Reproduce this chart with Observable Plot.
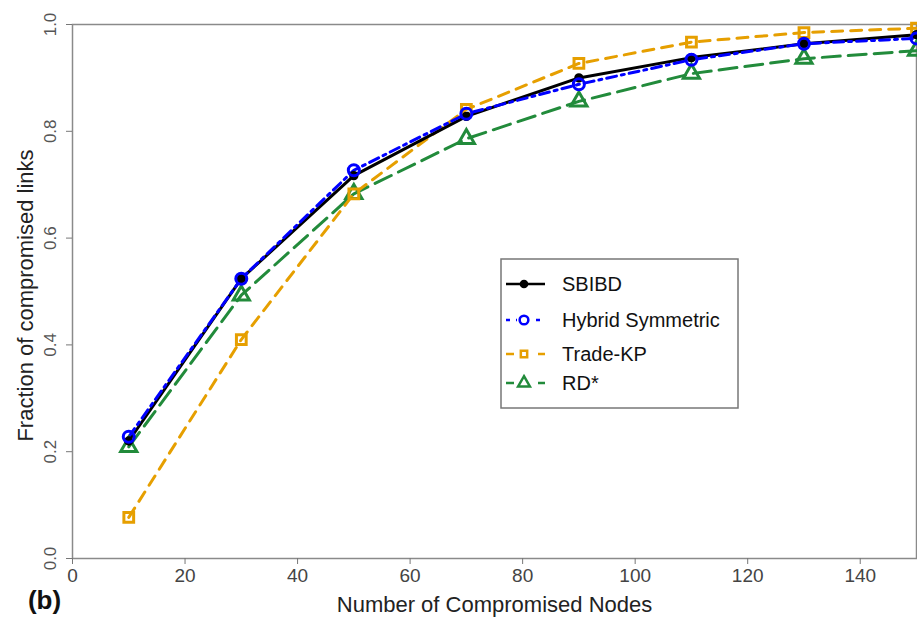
<!DOCTYPE html>
<html>
<head>
<meta charset="utf-8">
<script src="https://cdn.jsdelivr.net/npm/d3@7"></script>
<script src="https://cdn.jsdelivr.net/npm/@observablehq/plot@0.6"></script>
<style>
  body { margin: 0; background: #fff; font-family: "Liberation Sans", Arial, sans-serif; }
  #wrap { position: relative; width: 917px; height: 620px; }
  #legend { position: absolute; left: 500px; top: 258px; width: 240px; height: 152px; }
</style>
</head>
<body>
<div id="wrap"><div id="chart"></div><svg id="legend" width="240" height="152"></svg></div>
<script>
const nodes = [10, 30, 50, 70, 90, 110, 130, 150];
const sbibd  = [0.220, 0.524, 0.717, 0.828, 0.900, 0.938, 0.964, 0.981];
const hybrid = [0.228, 0.524, 0.727, 0.833, 0.888, 0.934, 0.964, 0.974];
const tradeKP = [0.077, 0.410, 0.683, 0.841, 0.927, 0.967, 0.985, 0.993];
const rdStar = [0.209, 0.493, 0.683, 0.786, 0.856, 0.908, 0.936, 0.951];
const xTicks = [0, 20, 40, 60, 80, 100, 120, 140];
const yTicks = [0, 0.2, 0.4, 0.6, 0.8, 1.0];

const seriesDefs = [
  {name: "SBIBD", values: sbibd, color: "#000000", dash: null, symbol: "circle", fill: "#000000", r: 3.2},
  {name: "Hybrid Symmetric", values: hybrid, color: "#0000ff", dash: "10,5,3,5", symbol: "circle", fill: "none", r: 5.5},
  {name: "Trade-KP", values: tradeKP, color: "#E69F00", dash: "11,8", symbol: "square", fill: "none", r: 5.5},
  {name: "RD*", values: rdStar, color: "#228B3B", dash: "18,8", symbol: "triangle", fill: "none", r: 6}
];

const rows = seriesDefs.map(s => nodes.map((n, i) => ({x: n, y: s.values[i], series: s.name})));

const marks = [];
const order = [3, 2, 0, 1];
for (const k of order) {
  const s = seriesDefs[k];
  marks.push(Plot.line(rows[k], {x: "x", y: "y", stroke: s.color, strokeWidth: 3, strokeDasharray: s.dash || undefined}));
}
for (const k of order) {
  const s = seriesDefs[k];
  marks.push(Plot.dot(rows[k], {x: "x", y: "y", stroke: s.color, fill: s.fill, strokeWidth: 3, symbol: s.symbol, r: s.r}));
}

const chart = Plot.plot({
  width: 917,
  height: 620,
  marginLeft: 72,
  marginRight: 1,
  marginTop: 24,
  marginBottom: 62,
  style: {fontFamily: "Liberation Sans, Arial, sans-serif", background: "#fff"},
  x: {domain: [0, 150]},
  y: {domain: [0, 1]},
  marks: [
    Plot.frame({stroke: "#8a8a8a", strokeWidth: 1.5}),
    Plot.axisX({ticks: xTicks, tickSize: 6, tickPadding: 4, fontSize: 19, color: "#444", stroke: "#777", label: null}),
    Plot.axisY({ticks: yTicks, tickSize: 6, tickFormat: () => "", stroke: "#777", label: null}),
    Plot.text(yTicks, {y: d => d, frameAnchor: "left", textAnchor: "middle", rotate: -90, dx: -22, text: d3.format(".1f"), fontSize: 17, fill: "#555"}),
    ...marks,
    Plot.text(["Number of Compromised Nodes"], {frameAnchor: "bottom", textAnchor: "middle", dy: 53, fontSize: 22, fill: "#222"}),
    Plot.text(["Fraction of compromised links"], {frameAnchor: "left", textAnchor: "middle", rotate: -90, dx: -47, dy: 4, fontSize: 22, fill: "#222"}),
    Plot.text(["(b)"], {frameAnchor: "bottom-left", textAnchor: "middle", dx: -28, dy: 50, fontSize: 26, fontWeight: "bold", fill: "#111"})
  ]
});
document.getElementById("chart").appendChild(chart);

// Legend
const lg = d3.select("#legend");
lg.append("rect").attr("x", 1).attr("y", 1).attr("width", 237).attr("height", 149)
  .attr("fill", "#fff").attr("stroke", "#777").attr("stroke-width", 1.5);
const ly = [26, 62, 96, 125];
seriesDefs.forEach((s, i) => {
  const g = lg.append("g").attr("transform", `translate(0,${ly[i]})`);
  g.append("line").attr("x1", 6).attr("x2", 45).attr("y1", 0).attr("y2", 0)
    .attr("stroke", s.color).attr("stroke-width", 2.5).attr("stroke-dasharray", s.dash ? (i === 1 ? "4,6" : "8,8") : null);
  const typ = s.symbol === "square" ? d3.symbolSquare : s.symbol === "triangle" ? d3.symbolTriangle : d3.symbolCircle;
  const size = s.name === "SBIBD" ? 30 : (i === 2 ? 40 : 60);
  g.append("rect").attr("x", 17).attr("y", -7).attr("width", 14).attr("height", 14).attr("fill", i === 0 ? "none" : "#fff");
  g.append("path").attr("d", d3.symbol(typ, size)()).attr("transform", "translate(24,0)")
    .attr("fill", s.fill).attr("stroke", s.color).attr("stroke-width", 2.5);
  g.append("text").attr("x", 62).attr("y", 0).attr("dy", "0.36em")
    .attr("font-size", 20).attr("fill", "#111").text(s.name);
});
</script>
</body>
</html>
